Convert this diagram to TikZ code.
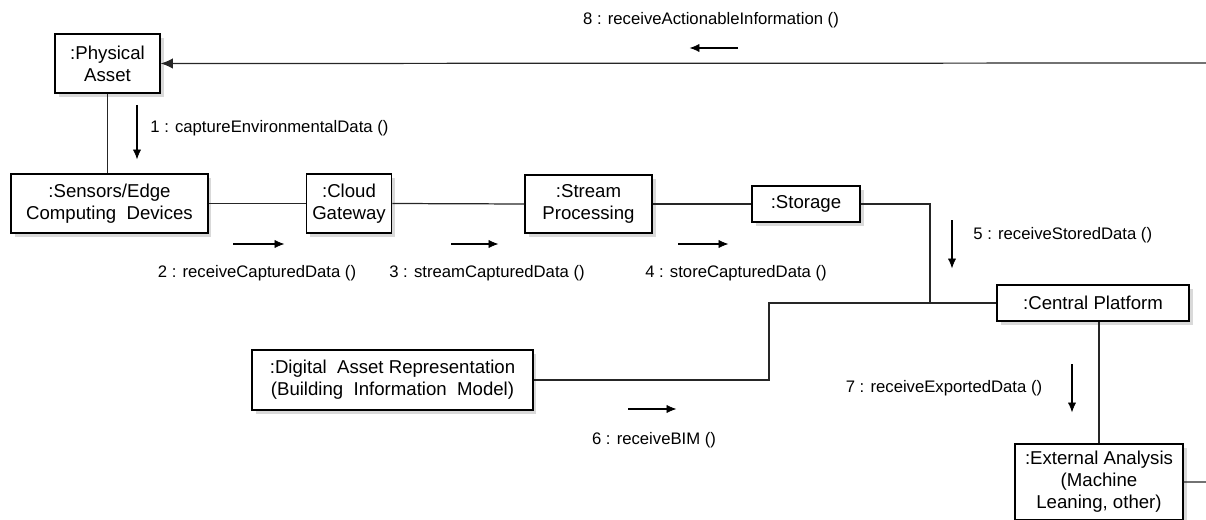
\documentclass[tikz,border=0pt]{standalone}
\usepackage{fontspec}
\setmainfont{Liberation Sans}
\usepackage{tikz}
\usetikzlibrary{positioning, calc, shapes, arrows.meta, arrows, decorations.markings, shadows}
\usepackage{xcolor}
\tikzstyle{Object} = [
draw, thick, fill=white, align=center,
font=\fontsize{10.6}{12.6}\selectfont,
drop shadow={shadow xshift=2pt, shadow yshift=-2pt, opacity=0.3, fill=gray}]
\tikzstyle{Link} = [line width=0.7pt, draw=black!85]
\tikzstyle{Label} = [font=\fontsize{9.5}{11.4}\selectfont, inner sep=0pt]
\tikzstyle{Arrow} = [
line width=0.6pt,
decoration={
markings,
mark=at position 0.9999 with {
\arrow{Latex[length=6pt, width=5pt]}}},
shorten >= 2pt, preaction = {decorate}]

\begin{document}
\begin{tikzpicture}[x=0.02cm, y=-0.02cm]
    \useasboundingbox (0,0) rectangle (1206,520);

    \node [Object, minimum width=2.1cm, minimum height=1.18cm] (1) at (107.5,63.5) {:Physical\\Asset};
    \node [Object, minimum width=3.94cm, minimum height=1.18cm] (2) at (109.5,203.5) {:Sensors/Edge\\Computing\ \ Devices};
    \node [Object, minimum width=1.64cm, minimum height=1.18cm] (3) at (349,203.5) {:Cloud\\Gateway};
    \node [Object, minimum width=2.54cm, minimum height=1.16cm] (4) at (588.5,204) {:Stream\\Processing};
    \node [Object, minimum width=2.16cm, minimum height=0.72cm] (5) at (806,204) {:Storage};
    \node [Object, minimum width=3.84cm, minimum height=0.72cm] (6) at (1093,303) {:Central Platform};
    \node [Object, minimum width=5.62cm, minimum height=1.2cm] (7) at (392.5,380) {:Digital\ \ Asset Representation\\(Building\ \ Information\ \ Model)};
    \node [Object, minimum width=3.36cm, minimum height=1.52cm] (8) at (1099,482) {:External Analysis\\(Machine\\Leaning, other)};

    \coordinate (j1) at (930,204);
    \coordinate (j2) at (769,380);
    \coordinate (j3) at (1240,63);

    \draw[Link] (1.south) -- (1.south |- 2.north);
    \draw[Link] (2.east) -- (3.west);
    \draw[Link] (3.east) -- (4.west);
    \draw[Link] (4.east) -- (5.west);
    \draw[Link] (5.east) -| (j1 |- 6.west) -- (6.west);
    \draw[Link] (7.east) -| (j2 |- 6.west) -- (6.west);
    \draw[Link] (8.north) -- (8.north |- 6.south);
    \draw[Link, -{Latex[length=7pt, width=6pt]}] (8.east) -| (j3) -- (1.east);

    \node [Label, anchor=west] (m1) at (150,128) {1 : captureEnvironmentalData ()};
    \node [Label] (m2) at (257,273) {2 : receiveCapturedData ()};
    \node [Label] (m3) at (487,273) {3 : streamCapturedData ()};
    \node [Label] (m4) at (736,273) {4 : storeCapturedData ()};
    \node [Label, anchor=west] (m5) at (973,235) {5 : receiveStoredData ()};
    \node [Label] (m6) at (654,440) {6 : receiveBIM ()};
    \node [Label] (m7) at (944,388) {7 : receiveExportedData ()};
    \node [Label] (m8) at (711,20) {8 : receiveActionableInformation ()};

    \draw[Arrow] (137,105) -- (137,160);
    \draw[Arrow] (233,244) -- (285,244);
    \draw[Arrow] (451,244) -- (499,244);
    \draw[Arrow] (678,244) -- (729,244);
    \draw[Arrow] (952,220) -- (952,269);
    \draw[Arrow] (628,409) -- (677,409);
    \draw[Arrow] (1072,364) -- (1072,413);
    \draw[Arrow] (738,48) -- (689,48);
\end{tikzpicture}
\end{document}
